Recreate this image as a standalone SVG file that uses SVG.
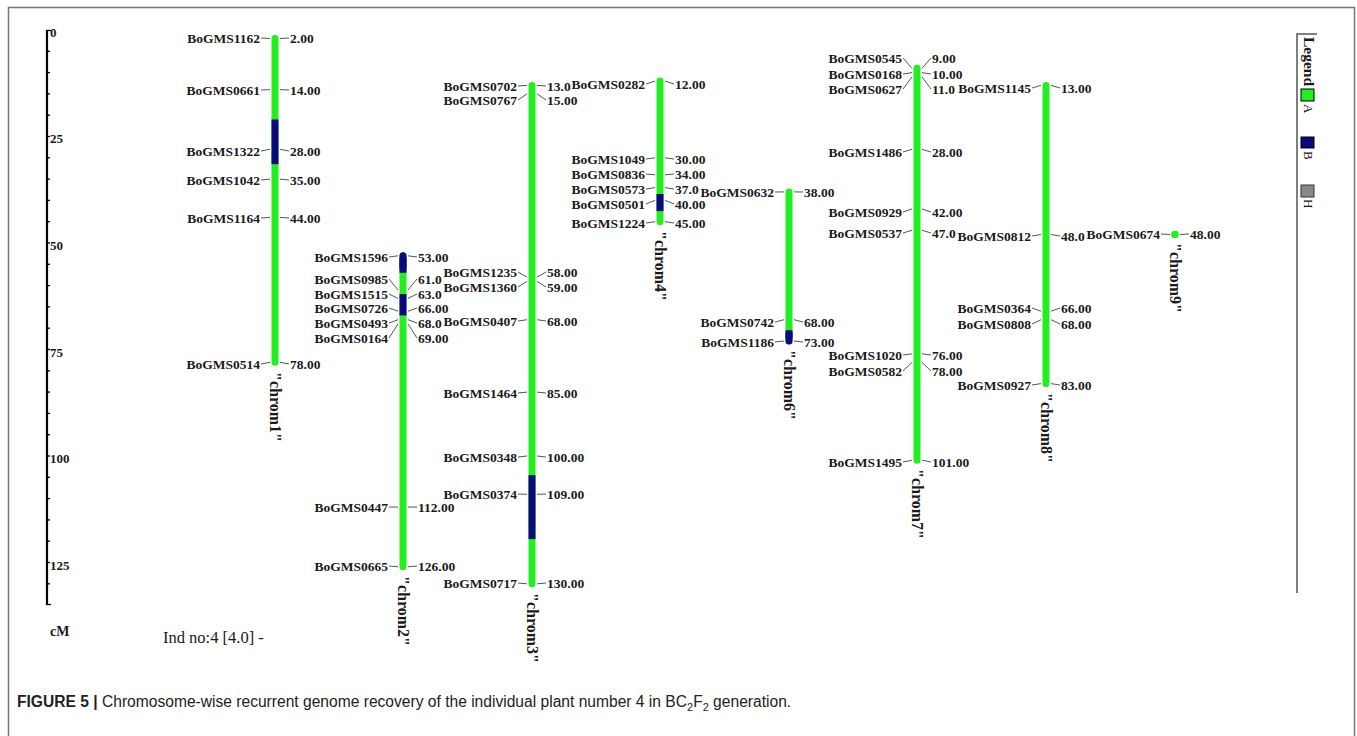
<svg xmlns="http://www.w3.org/2000/svg" width="1357" height="736" viewBox="0 0 1357 736">
<style>
text{font-family:"Liberation Serif","Times New Roman",serif;fill:#1a1a1a}
.nm{font-size:13.5px;font-weight:bold;text-anchor:end}
.vl{font-size:13.5px;font-weight:bold}
.ax{font-size:13px;font-weight:bold}
.cl{font-size:16px;font-weight:bold;dominant-baseline:central}
.g{stroke:#22ee22;stroke-width:7;stroke-linecap:round}
.b{stroke:#0a0a7a;stroke-width:7;stroke-linecap:butt}
.br{stroke:#0a0a7a;stroke-width:7;stroke-linecap:round}
#connectors line{stroke:#555;stroke-width:1}
.tk{stroke:#000;stroke-width:1.3}
.lg{font-size:13px;dominant-baseline:central}
.cap{font-family:"Liberation Sans",Arial,sans-serif;font-size:15.6px;fill:#222}
</style>
<rect x="0" y="0" width="1357" height="736" fill="#fff"/>
<rect x="8.5" y="7.5" width="1346" height="740" fill="none" stroke="#777" stroke-width="1.5"/>

<g id="axis">
<line x1="47" y1="30" x2="47" y2="605" stroke="#000" stroke-width="2.2"/>
<line class="tk" x1="46" y1="30.5" x2="51" y2="30.5"/>
<line class="tk" x1="46" y1="604.5" x2="51" y2="604.5"/>
<line class="tk" x1="47" y1="51.3" x2="50" y2="51.3"/>
<line class="tk" x1="47" y1="72.6" x2="50" y2="72.6"/>
<line class="tk" x1="47" y1="93.9" x2="50" y2="93.9"/>
<line class="tk" x1="47" y1="115.2" x2="50" y2="115.2"/>
<line class="tk" x1="47" y1="136.5" x2="50" y2="136.5"/>
<line class="tk" x1="47" y1="157.8" x2="50" y2="157.8"/>
<line class="tk" x1="47" y1="179.1" x2="50" y2="179.1"/>
<line class="tk" x1="47" y1="200.4" x2="50" y2="200.4"/>
<line class="tk" x1="47" y1="221.7" x2="50" y2="221.7"/>
<line class="tk" x1="47" y1="243" x2="50" y2="243"/>
<line class="tk" x1="47" y1="264.3" x2="50" y2="264.3"/>
<line class="tk" x1="47" y1="285.6" x2="50" y2="285.6"/>
<line class="tk" x1="47" y1="306.9" x2="50" y2="306.9"/>
<line class="tk" x1="47" y1="328.2" x2="50" y2="328.2"/>
<line class="tk" x1="47" y1="349.5" x2="50" y2="349.5"/>
<line class="tk" x1="47" y1="370.8" x2="50" y2="370.8"/>
<line class="tk" x1="47" y1="392.1" x2="50" y2="392.1"/>
<line class="tk" x1="47" y1="413.4" x2="50" y2="413.4"/>
<line class="tk" x1="47" y1="434.7" x2="50" y2="434.7"/>
<line class="tk" x1="47" y1="456" x2="50" y2="456"/>
<line class="tk" x1="47" y1="477.3" x2="50" y2="477.3"/>
<line class="tk" x1="47" y1="498.6" x2="50" y2="498.6"/>
<line class="tk" x1="47" y1="519.9" x2="50" y2="519.9"/>
<line class="tk" x1="47" y1="541.2" x2="50" y2="541.2"/>
<line class="tk" x1="47" y1="562.5" x2="50" y2="562.5"/>
<line class="tk" x1="47" y1="583.8" x2="50" y2="583.8"/>
<text class="ax" x="50" y="37">0</text>
<text class="ax" x="50" y="143">25</text>
<text class="ax" x="50" y="250">50</text>
<text class="ax" x="50" y="357">75</text>
<text class="ax" x="50" y="463">100</text>
<text class="ax" x="50" y="570">125</text>
<text x="50" y="636" style="font-size:14px;font-weight:bold">cM</text>
<text x="163" y="643" style="font-size:16.5px">Ind no:4 [4.0] -</text>
</g>

<g id="connectors">
<line x1="261" y1="38" x2="270" y2="38.5"/><line x1="280" y1="38.5" x2="289" y2="38"/>
<line x1="261" y1="90" x2="270" y2="89.6"/><line x1="280" y1="89.6" x2="289" y2="90"/>
<line x1="261" y1="151" x2="270" y2="149.3"/><line x1="280" y1="149.3" x2="289" y2="151"/>
<line x1="261" y1="180" x2="270" y2="179.1"/><line x1="280" y1="179.1" x2="289" y2="180"/>
<line x1="261" y1="218" x2="270" y2="217.4"/><line x1="280" y1="217.4" x2="289" y2="218"/>
<line x1="261" y1="364" x2="270" y2="362.3"/><line x1="280" y1="362.3" x2="289" y2="364"/>
<line x1="389" y1="257" x2="398" y2="255.8"/><line x1="408" y1="255.8" x2="417" y2="257"/>
<line x1="389" y1="279" x2="398" y2="289.9"/><line x1="408" y1="289.9" x2="417" y2="279"/>
<line x1="389" y1="294" x2="398" y2="298.4"/><line x1="408" y1="298.4" x2="417" y2="294"/>
<line x1="389" y1="308" x2="398" y2="311.2"/><line x1="408" y1="311.2" x2="417" y2="308"/>
<line x1="389" y1="323" x2="398" y2="319.7"/><line x1="408" y1="319.7" x2="417" y2="323"/>
<line x1="389" y1="338" x2="398" y2="323.9"/><line x1="408" y1="323.9" x2="417" y2="338"/>
<line x1="389" y1="507" x2="398" y2="507.1"/><line x1="408" y1="507.1" x2="417" y2="507"/>
<line x1="389" y1="566" x2="398" y2="566.8"/><line x1="408" y1="566.8" x2="417" y2="566"/>
<line x1="518" y1="86" x2="527" y2="85.4"/><line x1="537" y1="85.4" x2="546" y2="86"/>
<line x1="518" y1="100" x2="527" y2="93.9"/><line x1="537" y1="93.9" x2="546" y2="100"/>
<line x1="518" y1="272" x2="527" y2="277.1"/><line x1="537" y1="277.1" x2="546" y2="272"/>
<line x1="518" y1="287" x2="527" y2="281.3"/><line x1="537" y1="281.3" x2="546" y2="287"/>
<line x1="518" y1="321" x2="527" y2="319.7"/><line x1="537" y1="319.7" x2="546" y2="321"/>
<line x1="518" y1="393" x2="527" y2="392.1"/><line x1="537" y1="392.1" x2="546" y2="393"/>
<line x1="518" y1="457" x2="527" y2="456"/><line x1="537" y1="456" x2="546" y2="457"/>
<line x1="518" y1="494" x2="527" y2="494.3"/><line x1="537" y1="494.3" x2="546" y2="494"/>
<line x1="518" y1="583" x2="527" y2="583.8"/><line x1="537" y1="583.8" x2="546" y2="583"/>
<line x1="646" y1="84" x2="655" y2="81.1"/><line x1="665" y1="81.1" x2="674" y2="84"/>
<line x1="646" y1="159" x2="655" y2="157.8"/><line x1="665" y1="157.8" x2="674" y2="159"/>
<line x1="646" y1="174" x2="655" y2="174.8"/><line x1="665" y1="174.8" x2="674" y2="174"/>
<line x1="646" y1="189" x2="655" y2="187.6"/><line x1="665" y1="187.6" x2="674" y2="189"/>
<line x1="646" y1="204" x2="655" y2="200.4"/><line x1="665" y1="200.4" x2="674" y2="204"/>
<line x1="646" y1="223" x2="655" y2="221.7"/><line x1="665" y1="221.7" x2="674" y2="223"/>
<line x1="775" y1="192" x2="784" y2="191.9"/><line x1="794" y1="191.9" x2="803" y2="192"/>
<line x1="775" y1="322" x2="784" y2="319.7"/><line x1="794" y1="319.7" x2="803" y2="322"/>
<line x1="775" y1="342" x2="784" y2="341"/><line x1="794" y1="341" x2="803" y2="342"/>
<line x1="903" y1="58" x2="912" y2="68.3"/><line x1="922" y1="68.3" x2="931" y2="58"/>
<line x1="903" y1="74" x2="912" y2="72.6"/><line x1="922" y1="72.6" x2="931" y2="74"/>
<line x1="903" y1="89" x2="912" y2="76.9"/><line x1="922" y1="76.9" x2="931" y2="89"/>
<line x1="903" y1="152" x2="912" y2="149.3"/><line x1="922" y1="149.3" x2="931" y2="152"/>
<line x1="903" y1="212" x2="912" y2="208.9"/><line x1="922" y1="208.9" x2="931" y2="212"/>
<line x1="903" y1="233" x2="912" y2="230.2"/><line x1="922" y1="230.2" x2="931" y2="233"/>
<line x1="903" y1="355" x2="912" y2="353.8"/><line x1="922" y1="353.8" x2="931" y2="355"/>
<line x1="903" y1="371" x2="912" y2="362.3"/><line x1="922" y1="362.3" x2="931" y2="371"/>
<line x1="903" y1="462" x2="912" y2="460.3"/><line x1="922" y1="460.3" x2="931" y2="462"/>
<line x1="1032" y1="88" x2="1041" y2="85.4"/><line x1="1051" y1="85.4" x2="1060" y2="88"/>
<line x1="1032" y1="236" x2="1041" y2="234.5"/><line x1="1051" y1="234.5" x2="1060" y2="236"/>
<line x1="1032" y1="308" x2="1041" y2="311.2"/><line x1="1051" y1="311.2" x2="1060" y2="308"/>
<line x1="1032" y1="324" x2="1041" y2="319.7"/><line x1="1051" y1="319.7" x2="1060" y2="324"/>
<line x1="1032" y1="385" x2="1041" y2="383.6"/><line x1="1051" y1="383.6" x2="1060" y2="385"/>
<line x1="1161" y1="234" x2="1170" y2="234.5"/><line x1="1180" y1="234.5" x2="1189" y2="234"/>
</g>

<g id="chrom1">
<line class="g" x1="275" y1="38.5" x2="275" y2="362.3"/>
<line class="b" x1="275" y1="119.5" x2="275" y2="164.2"/>
<text class="nm" x="260" y="43">BoGMS1162</text><text class="vl" x="290" y="43">2.00</text>
<text class="nm" x="260" y="95">BoGMS0661</text><text class="vl" x="290" y="95">14.00</text>
<text class="nm" x="260" y="156">BoGMS1322</text><text class="vl" x="290" y="156">28.00</text>
<text class="nm" x="260" y="185">BoGMS1042</text><text class="vl" x="290" y="185">35.00</text>
<text class="nm" x="260" y="223">BoGMS1164</text><text class="vl" x="290" y="223">44.00</text>
<text class="nm" x="260" y="369">BoGMS0514</text><text class="vl" x="290" y="369">78.00</text>
<text class="cl" transform="translate(275,372) rotate(90)">"chrom1"</text>
</g>

<g id="chrom2">
<line class="g" x1="403" y1="255.8" x2="403" y2="566.8"/>
<line class="br" x1="403" y1="255.8" x2="403" y2="268"/>
<line class="b" x1="403" y1="258" x2="403" y2="272.8"/>
<line class="b" x1="403" y1="294.1" x2="403" y2="315.4"/>
<text class="nm" x="388" y="262">BoGMS1596</text><text class="vl" x="418" y="262">53.00</text>
<text class="nm" x="388" y="284">BoGMS0985</text><text class="vl" x="418" y="284">61.0</text>
<text class="nm" x="388" y="299">BoGMS1515</text><text class="vl" x="418" y="299">63.0</text>
<text class="nm" x="388" y="313">BoGMS0726</text><text class="vl" x="418" y="313">66.00</text>
<text class="nm" x="388" y="328">BoGMS0493</text><text class="vl" x="418" y="328">68.0</text>
<text class="nm" x="388" y="343">BoGMS0164</text><text class="vl" x="418" y="343">69.00</text>
<text class="nm" x="388" y="512">BoGMS0447</text><text class="vl" x="418" y="512">112.00</text>
<text class="nm" x="388" y="571">BoGMS0665</text><text class="vl" x="418" y="571">126.00</text>
<text class="cl" transform="translate(403,576) rotate(90)">"chrom2"</text>
</g>

<g id="chrom3">
<line class="g" x1="532" y1="85.4" x2="532" y2="583.8"/>
<line class="b" x1="532" y1="475.2" x2="532" y2="539.1"/>
<text class="nm" x="517" y="91">BoGMS0702</text><text class="vl" x="547" y="91">13.0</text>
<text class="nm" x="517" y="105">BoGMS0767</text><text class="vl" x="547" y="105">15.00</text>
<text class="nm" x="517" y="277">BoGMS1235</text><text class="vl" x="547" y="277">58.00</text>
<text class="nm" x="517" y="292">BoGMS1360</text><text class="vl" x="547" y="292">59.00</text>
<text class="nm" x="517" y="326">BoGMS0407</text><text class="vl" x="547" y="326">68.00</text>
<text class="nm" x="517" y="398">BoGMS1464</text><text class="vl" x="547" y="398">85.00</text>
<text class="nm" x="517" y="462">BoGMS0348</text><text class="vl" x="547" y="462">100.00</text>
<text class="nm" x="517" y="499">BoGMS0374</text><text class="vl" x="547" y="499">109.00</text>
<text class="nm" x="517" y="588">BoGMS0717</text><text class="vl" x="547" y="588">130.00</text>
<text class="cl" transform="translate(532,593) rotate(90)">"chrom3"</text>
</g>

<g id="chrom4">
<line class="g" x1="660" y1="81.1" x2="660" y2="221.7"/>
<line class="b" x1="660" y1="194" x2="660" y2="211.1"/>
<text class="nm" x="645" y="89">BoGMS0282</text><text class="vl" x="675" y="89">12.00</text>
<text class="nm" x="645" y="164">BoGMS1049</text><text class="vl" x="675" y="164">30.00</text>
<text class="nm" x="645" y="179">BoGMS0836</text><text class="vl" x="675" y="179">34.00</text>
<text class="nm" x="645" y="194">BoGMS0573</text><text class="vl" x="675" y="194">37.0</text>
<text class="nm" x="645" y="209">BoGMS0501</text><text class="vl" x="675" y="209">40.00</text>
<text class="nm" x="645" y="228">BoGMS1224</text><text class="vl" x="675" y="228">45.00</text>
<text class="cl" transform="translate(660,231) rotate(90)">"chrom4"</text>
</g>

<g id="chrom6">
<line class="g" x1="789" y1="191.9" x2="789" y2="341"/>
<line class="br" x1="789" y1="334" x2="789" y2="341"/>
<line class="b" x1="789" y1="330.3" x2="789" y2="338"/>
<text class="nm" x="774" y="197">BoGMS0632</text><text class="vl" x="804" y="197">38.00</text>
<text class="nm" x="774" y="327">BoGMS0742</text><text class="vl" x="804" y="327">68.00</text>
<text class="nm" x="774" y="347">BoGMS1186</text><text class="vl" x="804" y="347">73.00</text>
<text class="cl" transform="translate(789,350) rotate(90)">"chrom6"</text>
</g>

<g id="chrom7">
<line class="g" x1="917" y1="68.3" x2="917" y2="460.3"/>
<text class="nm" x="902" y="63">BoGMS0545</text><text class="vl" x="932" y="63">9.00</text>
<text class="nm" x="902" y="79">BoGMS0168</text><text class="vl" x="932" y="79">10.00</text>
<text class="nm" x="902" y="94">BoGMS0627</text><text class="vl" x="932" y="94">11.0</text>
<text class="nm" x="902" y="157">BoGMS1486</text><text class="vl" x="932" y="157">28.00</text>
<text class="nm" x="902" y="217">BoGMS0929</text><text class="vl" x="932" y="217">42.00</text>
<text class="nm" x="902" y="238">BoGMS0537</text><text class="vl" x="932" y="238">47.0</text>
<text class="nm" x="902" y="360">BoGMS1020</text><text class="vl" x="932" y="360">76.00</text>
<text class="nm" x="902" y="376">BoGMS0582</text><text class="vl" x="932" y="376">78.00</text>
<text class="nm" x="902" y="467">BoGMS1495</text><text class="vl" x="932" y="467">101.00</text>
<text class="cl" transform="translate(917,469) rotate(90)">"chrom7"</text>
</g>

<g id="chrom8">
<line class="g" x1="1046" y1="85.4" x2="1046" y2="383.6"/>
<text class="nm" x="1031" y="93">BoGMS1145</text><text class="vl" x="1061" y="93">13.00</text>
<text class="nm" x="1031" y="241">BoGMS0812</text><text class="vl" x="1061" y="241">48.0</text>
<text class="nm" x="1031" y="313">BoGMS0364</text><text class="vl" x="1061" y="313">66.00</text>
<text class="nm" x="1031" y="329">BoGMS0808</text><text class="vl" x="1061" y="329">68.00</text>
<text class="nm" x="1031" y="390">BoGMS0927</text><text class="vl" x="1061" y="390">83.00</text>
<text class="cl" transform="translate(1046,393) rotate(90)">"chrom8"</text>
</g>

<g id="chrom9">
<circle cx="1175" cy="234.5" r="3.8" fill="#22ee22"/>
<text class="nm" x="1160" y="239">BoGMS0674</text><text class="vl" x="1190" y="239">48.00</text>
<text class="cl" transform="translate(1175,243) rotate(90)">"chrom9"</text>
</g>

<g id="legend">
<polyline points="1317,34 1297,34 1297,593" fill="none" stroke="#555" stroke-width="1.5"/>
<text transform="translate(1309,37) rotate(90)" style="font-size:15.5px;font-weight:bold;dominant-baseline:central">Legend</text>
<rect x="1301" y="89" width="13" height="12" fill="#22ee22" stroke="#000" stroke-width="1"/>
<text class="lg" transform="translate(1308,104) rotate(90)">A</text>
<rect x="1301" y="137" width="13" height="11" fill="#0a0a7a" stroke="#000" stroke-width="1"/>
<text class="lg" transform="translate(1308,151) rotate(90)">B</text>
<rect x="1301" y="185" width="13" height="12" fill="#888" stroke="#333" stroke-width="1"/>
<text class="lg" transform="translate(1308,199) rotate(90)">H</text>
</g>

<text class="cap" x="17" y="707"><tspan font-weight="bold">FIGURE 5 |</tspan> Chromosome-wise recurrent genome recovery of the individual plant number 4 in BC<tspan font-size="11" dy="4">2</tspan><tspan dy="-4">F</tspan><tspan font-size="11" dy="4">2</tspan><tspan dy="-4"> generation.</tspan></text>
</svg>
